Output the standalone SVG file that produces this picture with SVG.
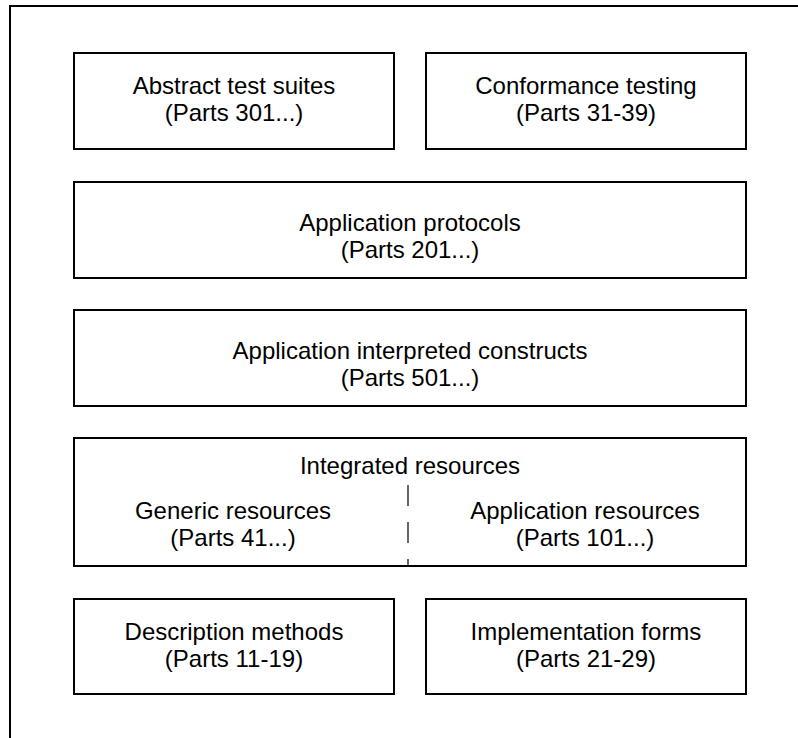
<svg xmlns="http://www.w3.org/2000/svg" width="798" height="738" viewBox="0 0 798 738">
  <style>
    .box { fill: #ffffff; stroke: #000000; stroke-width: 2; }
    .frame { fill: none; stroke: #000000; stroke-width: 2; }
    .divider { fill: none; stroke: #000000; stroke-width: 1.2; stroke-dasharray: 21 16; }
    text { font-family: "Liberation Sans", Arial, sans-serif; font-size: 24px; fill: #000000; text-anchor: middle; }
  </style>
  <rect x="0" y="0" width="798" height="738" fill="#ffffff"/>
  <!-- outer frame: left and top edges -->
  <path class="frame" d="M10,738 V6 H798"/>

  <g id="abstract-test-suites">
    <rect class="box" x="74" y="53" width="320" height="96"/>
    <text x="234" y="93.5">Abstract test suites</text>
    <text x="234" y="120.5">(Parts 301...)</text>
  </g>

  <g id="conformance-testing">
    <rect class="box" x="426" y="53" width="320" height="96"/>
    <text x="586" y="93.5">Conformance testing</text>
    <text x="586" y="120.5">(Parts 31-39)</text>
  </g>

  <g id="application-protocols">
    <rect class="box" x="74" y="182" width="672" height="96"/>
    <text x="410" y="230.5">Application protocols</text>
    <text x="410" y="257.5">(Parts 201...)</text>
  </g>

  <g id="application-interpreted-constructs">
    <rect class="box" x="74" y="310" width="672" height="96"/>
    <text x="410" y="358.5">Application interpreted constructs</text>
    <text x="410" y="385.5">(Parts 501...)</text>
  </g>

  <g id="integrated-resources">
    <rect class="box" x="74" y="438" width="672" height="128"/>
    <text x="410" y="473.5">Integrated resources</text>
    <text x="233" y="518.5">Generic resources</text>
    <text x="233" y="545.5">(Parts 41...)</text>
    <text x="585" y="518.5">Application resources</text>
    <text x="585" y="545.5">(Parts 101...)</text>
  </g>

  <g id="description-methods">
    <rect class="box" x="74" y="599" width="320" height="95"/>
    <text x="234" y="639.5">Description methods</text>
    <text x="234" y="666.5">(Parts 11-19)</text>
  </g>

  <g id="implementation-forms">
    <rect class="box" x="426" y="599" width="320" height="95"/>
    <text x="586" y="639.5">Implementation forms</text>
    <text x="586" y="666.5">(Parts 21-29)</text>
  </g>

  <g id="connectors">
    <!-- dashed split between generic and application resources -->
    <line class="divider" x1="408" y1="485" x2="408" y2="566"/>
  </g>
</svg>
